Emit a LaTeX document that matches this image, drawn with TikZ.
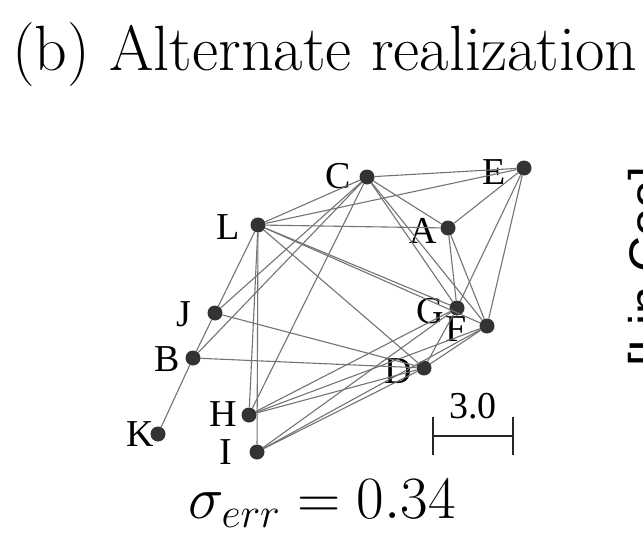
\RequirePackage{fix-cm}
\documentclass[tikz,border=0pt]{standalone}
\usepackage{fontspec}
\newfontfamily\lblfont{Liberation Serif}
\newfontfamily\sidefont{Liberation Sans}
\begin{document}
\begin{tikzpicture}[x=1pt, y=-1pt,
  dot/.style={circle, fill=black!80, inner sep=0pt, minimum size=15pt},
  lbl/.style={inner sep=0pt, font=\lblfont\fontsize{38}{40}\selectfont},
  edge/.style={draw=black!55, line width=1.1pt},
  bar/.style={draw=black!85, line width=1.3pt}]
\useasboundingbox (0,0) rectangle (643,538);
% title
\node[anchor=base west, inner sep=0pt, font=\fontsize{64}{72}\selectfont] (title) at (12,70) {(b) Alternate realization};
% labels
\node[lbl] (lc) at (338,176) {C};
\node[lbl] (le) at (494,172) {E};
\node[lbl] (ll) at (228,227) {L};
\node[lbl] (la) at (423,231) {A};
\node[lbl] (lj) at (184,314) {J};
\node[lbl] (lg) at (430,311) {G};
\node[lbl] (lf) at (456,329) {F};
\node[lbl] (lb) at (167,359) {B};
\node[lbl] (ld) at (398,371) {D};
\node[lbl] (lh) at (223,414) {H};
\node[lbl] (lk) at (140,434) {K};
\node[lbl] (li) at (226,452) {I};
% points
\node[dot] (c) at (367,177) {};
\node[dot] (e) at (524,168) {};
\node[dot] (l) at (258,225) {};
\node[dot] (a) at (448,228) {};
\node[dot] (j) at (215,313) {};
\node[dot] (g) at (457,308) {};
\node[dot] (f) at (487,326) {};
\node[dot] (b) at (193,358) {};
\node[dot] (d) at (424,368) {};
\node[dot] (h) at (249,415) {};
\node[dot] (k) at (158,434) {};
\node[dot] (i) at (257,452) {};
% connections
\draw[edge] (c) -- (e);
\draw[edge] (c) -- (l);
\draw[edge] (c) -- (a);
\draw[edge] (c) -- (g);
\draw[edge] (c) -- (f);
\draw[edge] (c) -- (j);
\draw[edge] (c) -- (b);
\draw[edge] (c) -- (h);
\draw[edge] (e) -- (l);
\draw[edge] (e) -- (a);
\draw[edge] (e) -- (g);
\draw[edge] (e) -- (f);
\draw[edge] (l) -- (a);
\draw[edge] (l) -- (g);
\draw[edge] (l) -- (f);
\draw[edge] (l) -- (d);
\draw[edge] (l) -- (j);
\draw[edge] (l) -- (h);
\draw[edge] (l) -- (i);
\draw[edge] (a) -- (g);
\draw[edge] (a) -- (f);
\draw[edge] (j) -- (b);
\draw[edge] (j) -- (d);
\draw[edge] (b) -- (k);
\draw[edge] (b) -- (d);
\draw[edge] (d) -- (h);
\draw[edge] (d) -- (i);
\draw[edge] (d) -- (f);
\draw[edge] (d) -- (g);
\draw[edge] (h) -- (g);
\draw[edge] (h) -- (f);
\draw[edge] (i) -- (g);
\draw[edge] (i) -- (f);
% scale bar
\coordinate (s1) at (433,436);
\coordinate (s2) at (513,436);
\draw[bar] (s1) -- (s2);
\draw[bar] ([yshift=19pt]s1) -- ([yshift=-19pt]s1);
\draw[bar] ([yshift=19pt]s2) -- ([yshift=-19pt]s2);
\node[lbl] (scale) at (473,406) {3.0};
% error
\node[anchor=base, inner sep=0pt, font=\fontsize{60}{64}\selectfont] (err) at (322,518) {$\sigma_{err} = 0.34$};
% cut-off side text
\node[rotate=90, anchor=base west, inner sep=0pt, font=\sidefont\fontsize{50}{60}\selectfont] (side) at (664,367) {[Lin Coo]};
\end{tikzpicture}
\end{document}
